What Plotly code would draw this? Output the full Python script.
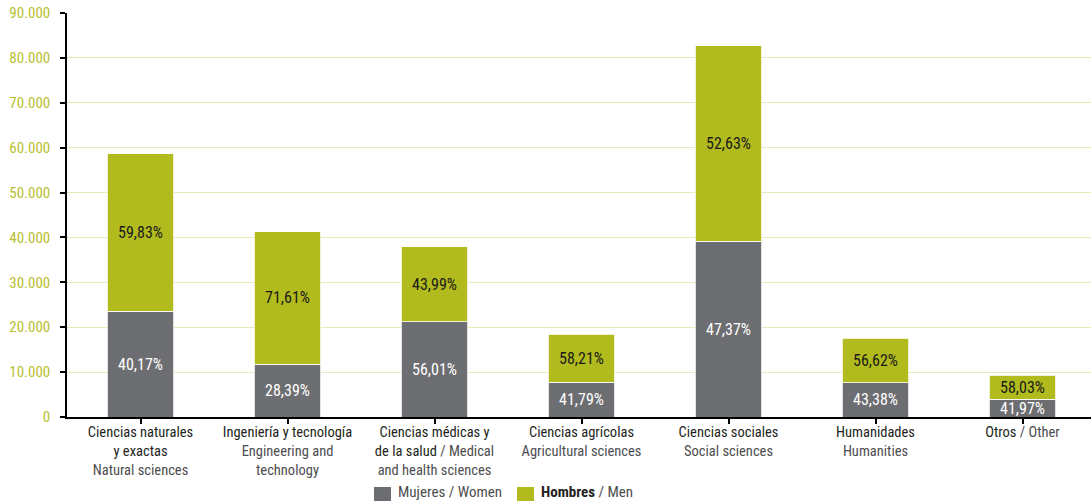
import plotly.graph_objects as go

# Researchers by field of science, split by sex
fields_es = ["Ciencias naturales<br>y exactas", "Ingeniería y tecnología", "Ciencias médicas y<br>de la salud",
             "Ciencias agrícolas", "Ciencias sociales", "Humanidades", "Otros"]
fields_en = ["Natural sciences", "Engineering and<br>technology", "Medical<br>and health sciences",
             "Agricultural sciences", "Social sciences", "Humanities", "Other"]
totals = [58700, 41300, 37900, 18400, 82700, 17500, 9350]
women_pct = [40.17, 28.39, 56.01, 41.79, 47.37, 43.38, 41.97]
men_pct = [59.83, 71.61, 43.99, 58.21, 52.63, 56.62, 58.03]

women = [t * p / 100 for t, p in zip(totals, women_pct)]
men = [t * p / 100 for t, p in zip(totals, men_pct)]

ES_COLOR = "#231f20"
EN_COLOR = "#4d4d4f"
GRAY = "#6d6e71"
GREEN = "#b1bb1e"
FONT = "Liberation Sans Narrow, Roboto Condensed, Arial Narrow, Liberation Sans, sans-serif"

# plot area in pixels, used to place the legend below the axis
L, R, T, B = 67, 0, 13, 84
W_PLOT = 1091 - L - R
H_PLOT = 501 - T - B


def px_x(x):
    return (x - L) / W_PLOT


def px_y(y):
    return (501 - B - y) / H_PLOT


def tick_label(es, en):
    # Spanish name in dark, English name in lighter grey; some share a line with " / "
    if es.startswith("Ciencias médicas"):
        return (f"<span style='color:{ES_COLOR}'>Ciencias médicas y<br>de la salud</span>"
                f"<span style='color:{EN_COLOR}'> / Medical<br>and health sciences</span>")
    if es == "Otros":
        return f"<span style='color:{ES_COLOR}'>Otros</span><span style='color:{EN_COLOR}'> / Other</span>"
    return f"<span style='color:{ES_COLOR}'>{es}</span><br><span style='color:{EN_COLOR}'>{en}</span>"


ticktext = [tick_label(es, en) for es, en in zip(fields_es, fields_en)]
xs = list(range(len(fields_es)))


def fmt(p):
    return f"{p:.2f}%".replace(".", ",")


fig = go.Figure()
fig.add_trace(go.Bar(
    x=xs, y=women, name="Mujeres / Women",
    marker=dict(color=GRAY, line=dict(width=0.8, color="white")),
    width=0.45,
    text=[fmt(p) for p in women_pct], textposition="inside", insidetextanchor="middle",
    textfont=dict(color="white", size=16, family=FONT),
    hoverinfo="skip", showlegend=False,
))
fig.add_trace(go.Bar(
    x=xs, y=men, name="Hombres / Men",
    marker=dict(color=GREEN, line=dict(width=0.8, color="white")),
    width=0.45,
    text=[fmt(p) for p in men_pct], textposition="inside", insidetextanchor="middle",
    textfont=dict(color="#1a1a1a", size=16, family=FONT),
    hoverinfo="skip", showlegend=False,
))

# legend keys drawn below the category labels
legend_items = [
    (374, 391, GRAY, f"<span style='color:{EN_COLOR}'>Mujeres / Women</span>"),
    (517, 534, GREEN, f"<b style='color:{ES_COLOR}'>Hombres</b><span style='color:{EN_COLOR}'> / Men</span>"),
]
for x0, x1, color, label in legend_items:
    fig.add_shape(type="rect", xref="paper", yref="paper",
                  x0=px_x(x0), x1=px_x(x1), y0=px_y(487), y1=px_y(505),
                  fillcolor=color, line=dict(width=0))
    fig.add_annotation(xref="paper", yref="paper", x=px_x(x1 + 5), y=px_y(492),
                       xanchor="left", yanchor="middle", text=label, showarrow=False,
                       font=dict(size=15, family=FONT))

fig.update_layout(
    barmode="stack",
    width=1091, height=501,
    margin=dict(l=L, r=R, t=T, b=B),
    paper_bgcolor="white", plot_bgcolor="white",
    separators=",.",
    font=dict(family=FONT, size=15, color=ES_COLOR),
    uniformtext=dict(minsize=16, mode="show"),
    bargap=0.55,
)

fig.update_xaxes(
    tickmode="array", tickvals=xs, ticktext=ticktext,
    range=[-0.5, 6.466],
    showline=True, linecolor="black", linewidth=1.5,
    ticks="outside", ticklen=5, tickcolor="black", tickwidth=1.5,
    tickson="boundaries",
    showgrid=False, zeroline=False,
    tickfont=dict(size=14.5, family=FONT),
    ticklabelstandoff=-4,
)
fig.update_yaxes(
    range=[0, 90000], tickvals=[0, 10000, 20000, 30000, 40000, 50000, 60000, 70000, 80000, 90000],
    tickformat=",d",
    showline=True, linecolor="black", linewidth=1.5,
    ticks="outside", ticklen=5, tickcolor="black", tickwidth=1.5,
    showgrid=True, gridcolor="#e6e9b8", gridwidth=1.2,
    zeroline=False,
    tickfont=dict(size=15, color="#b8c030", family=FONT),
    ticklabelstandoff=7,
)

fig.write_html("out.html")
